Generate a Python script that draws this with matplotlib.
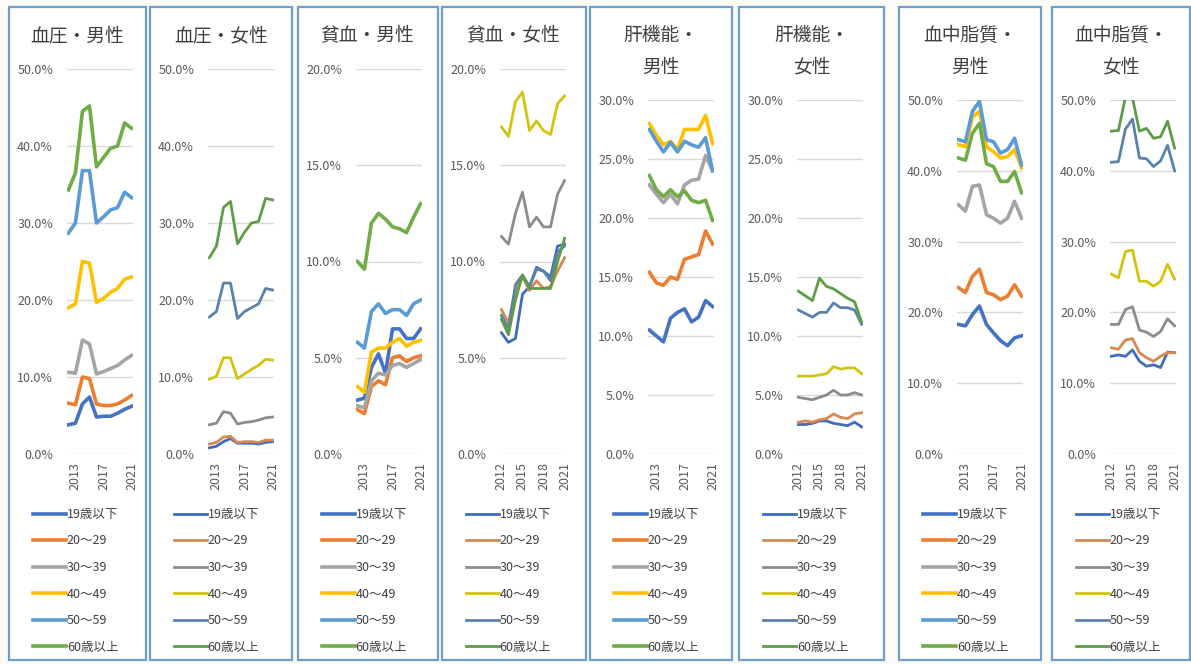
import matplotlib
matplotlib.use("Agg")
import matplotlib.pyplot as plt
from matplotlib.patches import Rectangle

plt.rcParams['font.family'] = ['Noto Sans CJK JP', 'DejaVu Sans']

# データ（2012〜2021年、年齢階級別の割合 %）
years = [2012, 2013, 2014, 2015, 2016, 2017, 2018, 2019, 2020, 2021]
age_groups = ['19歳以下', '20〜29', '30〜39', '40〜49', '50〜59', '60歳以上']

titles = ['血圧・男性', '血圧・女性', '貧血・男性', '貧血・女性',
          '肝機能・\n男性', '肝機能・\n女性', '血中脂質・\n男性', '血中脂質・\n女性']

bp_male = [
    [3.8, 4.0, 6.5, 7.4, 4.8, 4.9, 4.9, 5.3, 5.8, 6.2],
    [6.6, 6.4, 10.0, 9.8, 6.5, 6.3, 6.3, 6.5, 7.0, 7.6],
    [10.6, 10.5, 14.8, 14.3, 10.4, 10.7, 11.1, 11.5, 12.2, 12.8],
    [19.0, 19.5, 25.0, 24.8, 19.7, 20.2, 21.0, 21.5, 22.7, 23.0],
    [28.7, 30.0, 36.8, 36.8, 30.0, 30.8, 31.7, 32.0, 34.0, 33.3],
    [34.3, 36.5, 44.5, 45.2, 37.3, 38.5, 39.7, 40.0, 43.0, 42.3],
]
bp_female = [
    [0.8, 1.0, 1.6, 2.0, 1.4, 1.4, 1.4, 1.3, 1.5, 1.6],
    [1.3, 1.5, 2.2, 2.3, 1.5, 1.6, 1.6, 1.5, 1.8, 1.8],
    [3.8, 4.0, 5.5, 5.3, 3.9, 4.1, 4.2, 4.4, 4.7, 4.8],
    [9.7, 10.1, 12.5, 12.5, 9.8, 10.4, 11.0, 11.5, 12.3, 12.2],
    [17.8, 18.5, 22.2, 22.2, 17.6, 18.5, 19.0, 19.5, 21.5, 21.3],
    [25.5, 27.0, 32.0, 32.8, 27.3, 28.8, 30.0, 30.2, 33.2, 33.0],
]
anemia_male = [
    [2.8, 2.9, 4.5, 5.2, 4.2, 6.5, 6.5, 6.0, 6.0, 6.5],
    [2.3, 2.1, 3.5, 3.8, 3.6, 5.0, 5.1, 4.8, 5.0, 5.1],
    [2.5, 2.4, 3.8, 4.2, 4.1, 4.6, 4.7, 4.5, 4.7, 4.9],
    [3.5, 3.2, 5.3, 5.5, 5.5, 5.8, 6.0, 5.6, 5.8, 5.9],
    [5.8, 5.5, 7.4, 7.8, 7.3, 7.5, 7.5, 7.2, 7.8, 8.0],
    [10.0, 9.6, 12.0, 12.5, 12.2, 11.8, 11.7, 11.5, 12.3, 13.0],
]
anemia_female = [
    [6.3, 5.8, 6.0, 8.3, 8.7, 9.7, 9.5, 9.2, 10.8, 10.9],
    [7.5, 6.8, 8.5, 9.2, 8.5, 9.0, 8.6, 8.7, 9.5, 10.2],
    [11.3, 10.9, 12.5, 13.6, 11.8, 12.3, 11.8, 11.8, 13.5, 14.2],
    [17.0, 16.5, 18.3, 18.8, 16.8, 17.3, 16.8, 16.6, 18.2, 18.6],
    [7.2, 6.5, 8.8, 9.3, 8.7, 9.6, 9.5, 9.0, 10.5, 10.8],
    [7.0, 6.2, 8.0, 9.3, 8.6, 8.6, 8.6, 8.6, 10.0, 11.2],
]
liver_male = [
    [10.5, 10.0, 9.5, 11.5, 12.0, 12.3, 11.2, 11.6, 13.0, 12.5],
    [15.4, 14.5, 14.3, 15.0, 14.8, 16.5, 16.7, 16.9, 18.9, 17.8],
    [22.8, 22.0, 21.3, 22.0, 21.2, 22.8, 23.2, 23.3, 25.3, 24.0],
    [28.0, 27.0, 26.2, 26.5, 25.8, 27.5, 27.5, 27.5, 28.7, 26.3],
    [27.5, 26.5, 25.6, 26.4, 25.6, 26.5, 26.2, 26.0, 26.8, 24.0],
    [23.6, 22.4, 21.8, 22.4, 21.8, 22.3, 21.5, 21.3, 21.5, 19.8],
]
liver_female = [
    [2.5, 2.5, 2.6, 2.8, 2.8, 2.6, 2.5, 2.4, 2.7, 2.3],
    [2.7, 2.8, 2.7, 2.9, 3.0, 3.4, 3.1, 3.0, 3.4, 3.5],
    [4.8, 4.7, 4.6, 4.8, 5.0, 5.4, 5.0, 5.0, 5.2, 5.0],
    [6.6, 6.6, 6.6, 6.7, 6.8, 7.4, 7.2, 7.3, 7.3, 6.8],
    [12.2, 11.9, 11.6, 12.0, 12.0, 12.8, 12.4, 12.4, 12.2, 11.0],
    [13.8, 13.4, 13.0, 14.9, 14.2, 14.0, 13.6, 13.2, 12.9, 11.2],
]
lipid_male = [
    [18.3, 18.1, 19.7, 20.9, 18.3, 17.1, 16.0, 15.3, 16.4, 16.7],
    [23.5, 22.8, 25.1, 26.1, 22.8, 22.5, 21.8, 22.3, 23.9, 22.3],
    [35.2, 34.3, 37.8, 38.0, 33.8, 33.3, 32.6, 33.3, 35.7, 33.3],
    [43.7, 43.4, 47.6, 48.4, 43.4, 42.7, 41.8, 42.0, 43.0, 40.4],
    [44.4, 44.1, 48.4, 49.8, 44.4, 44.1, 42.5, 43.0, 44.6, 40.8],
    [41.8, 41.5, 45.3, 46.7, 41.0, 40.6, 38.5, 38.5, 39.9, 36.9],
]
lipid_female = [
    [13.8, 14.0, 13.8, 14.7, 13.1, 12.4, 12.6, 12.2, 14.4, 14.3],
    [15.0, 14.8, 16.1, 16.3, 14.3, 13.6, 13.1, 13.8, 14.3, 14.3],
    [18.3, 18.3, 20.4, 20.8, 17.5, 17.2, 16.6, 17.3, 19.1, 18.1],
    [25.4, 24.9, 28.6, 28.8, 24.4, 24.4, 23.7, 24.4, 26.8, 24.7],
    [41.2, 41.3, 45.9, 47.3, 41.8, 41.7, 40.6, 41.4, 43.6, 40.0],
    [45.6, 45.7, 50.4, 50.3, 45.6, 46.0, 44.6, 44.8, 47.0, 43.2],
]

panel_data = [bp_male, bp_female, anemia_male, anemia_female,
              liver_male, liver_female, lipid_male, lipid_female]
y_max = [50, 50, 20, 20, 30, 30, 50, 50]
y_step = [10, 10, 5, 5, 5, 5, 10, 10]
year_ticks = [[2013, 2017, 2021], [2013, 2017, 2021], [2013, 2017, 2021],
              [2012, 2015, 2018, 2021], [2013, 2017, 2021],
              [2012, 2015, 2018, 2021], [2013, 2017, 2021],
              [2012, 2015, 2018, 2021]]

colors_male = ['#4472c4', '#ed7d31', '#a5a5a5', '#ffc000', '#5b9bd5', '#70ad47']
colors_female = ['#3f6cbd', '#d68a52', '#8c8c8c', '#d2c40e', '#5a83ab', '#5e9c48']

# レイアウト（ピクセル）
W, H = 1191, 664
panel_left = [9, 150, 298, 442, 590, 739, 899, 1052]
panel_right = [146, 292, 438, 586, 732, 884, 1041, 1190]

fig = plt.figure(figsize=(W / 100, H / 100), dpi=100)
fig.patch.set_facecolor('#fcfbf6')

for i in range(8):
    pl, pr = panel_left[i], panel_right[i]
    box = Rectangle((pl / W, 1 - 660 / H), (pr - pl) / W, 653 / H,
                    transform=fig.transFigure, facecolor='white',
                    edgecolor='#6c9fcc', linewidth=1.6, zorder=-1)
    fig.add_artist(box)

    two_line = '\n' in titles[i]
    top = 100 if two_line else 69
    if two_line:
        first, second = titles[i].split('\n')
        fig.text((pl + pr) / 2 / W, 1 - 35 / H, first, ha='center', va='center',
                 fontsize=13.5, color='#404040')
        fig.text((pl + pr) / 2 / W, 1 - 67 / H, second, ha='center', va='center',
                 fontsize=13.5, color='#404040')
    else:
        fig.text((pl + pr) / 2 / W, 1 - 36 / H, titles[i], ha='center',
                 va='center', fontsize=13.5, color='#404040')

    ax = fig.add_axes([(pl + 58) / W, 1 - 454 / H, 66 / W, (454 - top) / H])
    ax.set_facecolor('none')
    female = i % 2 == 1
    colors = colors_female if female else colors_male
    lw = 2.0 if female else 2.6
    for k, series in enumerate(panel_data[i]):
        ax.plot(years, series, color=colors[k], linewidth=lw,
                label=age_groups[k])

    ax.set_xlim(2011.8, 2021.2)
    ax.set_ylim(0, y_max[i])
    ticks = list(range(0, y_max[i] + 1, y_step[i]))
    ax.set_yticks(ticks)
    ax.set_yticklabels([f'{t:.1f}%' for t in ticks])
    ax.set_xticks(year_ticks[i])
    ax.set_xticklabels([str(y) for y in year_ticks[i]], rotation=90)
    ax.grid(axis='y', color='#d9d9d9', linewidth=1.0)
    ax.set_axisbelow(True)
    for s in ax.spines.values():
        s.set_visible(False)
    ax.tick_params(axis='y', length=0, pad=10, labelsize=9, labelcolor='#595959')
    ax.tick_params(axis='x', length=0, pad=6, labelsize=9, labelcolor='#595959')

    leg = ax.legend(loc='upper left', bbox_to_anchor=((pl + 24) / W, 1 - 508 / H),
                    bbox_transform=fig.transFigure, frameon=False,
                    fontsize=9, handlelength=2.6, handletextpad=0.1,
                    labelspacing=1.08, borderpad=0, borderaxespad=0)
    for t in leg.get_texts():
        t.set_color('#404040')

fig.savefig('out.png', dpi=100, facecolor=fig.get_facecolor())
